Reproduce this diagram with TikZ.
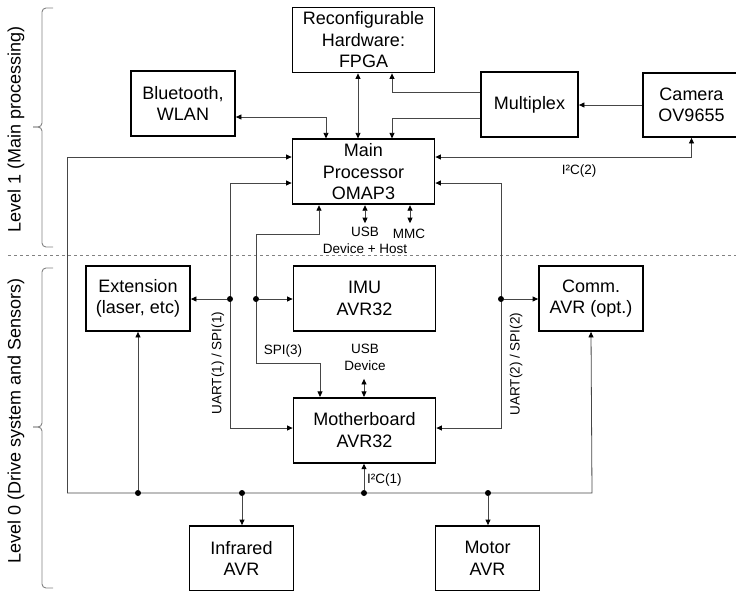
\documentclass[tikz,border=0pt]{standalone}
\usepackage{fontspec}
\setmainfont{Liberation Sans}
\usepackage{tikz}
\usetikzlibrary{arrows.meta, positioning}
\definecolor{wire}{RGB}{70, 70, 70}
\definecolor{guide}{RGB}{130, 130, 130}
\newcommand{\boxfont}{\fontsize{18}{21.5}\selectfont}
\newcommand{\lblfont}{\fontsize{13.5}{16.5}\selectfont}

\begin{document}
\begin{tikzpicture}[
        x=1pt, y=-1pt,
        box/.style={draw=black, line width=1.8pt, fill=white, minimum height=65pt, inner sep=0pt, align=center, font=\boxfont},
        wide/.style={box, minimum width=142pt},
        narrow/.style={box, minimum width=104pt},
        link/.style={draw=wire, line width=0.8pt, -{Triangle[length=5.5pt, width=5pt, color=black]}},
        both/.style={link, {Triangle[length=5.5pt, width=5pt, color=black]}-{Triangle[length=5.5pt, width=5pt, color=black]}},
        lbl/.style={font=\lblfont, inner sep=1pt, align=center},
        dot/.style={circle, fill=black, inner sep=0pt, minimum size=6pt},
        level/.style={rotate=90, font=\boxfont, inner sep=0pt},
        lvlbrace/.style={draw=guide, line width=0.9pt, rounded corners=4pt}
    ]
    \useasboundingbox (0,0) rectangle (736,590);

    % level 1
    \node[wide] (fpga) at (363.5,40) {Reconfigurable\\Hardware:\\FPGA};
    \node[wide, below=65pt of fpga] (omap) {Main\\Processor\\OMAP3};
    \node[narrow] (bt) at (183,103.5) {Bluetooth,\\WLAN};
    \node[box, minimum width=97pt] (mux) at (529.5,104.5) {Multiplex};
    \node[box, minimum width=97pt, minimum height=64pt] (cam) at (691.5,105) {Camera\\OV9655};

    % level 0
    \node[narrow] (ext) at (138,298.5) {Extension\\(laser, etc)};
    \node[wide] (imu) at (364.5,298.5) {IMU\\AVR32};
    \node[narrow] (comm) at (591,298.5) {Comm.\\AVR (opt.)};
    \node[wide, below=65pt of imu] (mb) {Motherboard\\AVR32};
    \node[narrow] (ir) at (241.5,558.5) {Infrared\\AVR};
    \node[narrow] (motor) at (487.5,558.5) {Motor\\AVR};

    \draw[both] (fpga.south -| 358,0) -- (omap.north -| 358,0);
    \draw[both] (bt.east |- 0,117) -| (omap.north -| 326,0);
    \draw[link] (mux.west |- 0,92) -| (fpga.south -| 392,0);
    \draw[link] (mux.west |- 0,118) -| (omap.north -| 392,0);
    \draw[link] (cam.west) -- (cam.west -| mux.east);
    \draw[both] (omap.east |- 0,157) -| (cam.south);
    \node[lbl] (i2ctwo) at (579,171) {I²C(2)};

    \draw[both] (omap.south -| 365,0) -- ++(0,18);
    \draw[both] (omap.south -| 410,0) -- ++(0,18);
    \node[lbl] (usbhost) at (365,240.5) {USB\\Device + Host};
    \node[lbl] (mmc) at (409,234) {MMC};

    \draw[dashed, draw=guide, line width=0.6pt] (8,255) -- (736,255);

    % UART(1) / SPI(1)
    \draw[both] (omap.west |- 0,183) -| (230,428) -- (mb.west |- 0,428);
    \node[dot] (juone) at (230,299) {};
    \draw[link] (juone) -- (ext.east |- juone);
    \node[lbl, rotate=90] (uartone) at (218,363) {UART(1) / SPI(1)};

    % SPI(3)
    \draw[both] (omap.south -| 319,0) |- (256,234) |- (320,363) -- (mb.north -| 320,0);
    \node[dot] (jspi) at (256,299) {};
    \draw[link] (jspi) -- (imu.west |- jspi);
    \node[lbl] (spithree) at (283,351) {SPI(3)};
    \draw[both] (mb.north -| 364,0) -- ++(0,-18);
    \node[lbl] (usbdev) at (365,357.5) {USB\\Device};

    % UART(2) / SPI(2)
    \draw[both] (omap.east |- 0,183) -| (501,428) -- (mb.east |- 0,428);
    \node[dot] (jutwo) at (501,299) {};
    \draw[link] (jutwo) -- (comm.west |- jutwo);
    \node[lbl, rotate=90] (uarttwo) at (516,364) {UART(2) / SPI(2)};

    % I2C(1) bus
    \coordinate (busL) at (67,493);
    \coordinate (busR) at (592,493);
    \draw[link] (busL) -- (busR) -- (comm.south);
    \draw[link] (busL) |- (omap.west |- 0,157);
    \foreach \x/\dst in {138/ext, 364/mb} {
        \node[dot] (j\x) at (\x,493) {};
        \draw[link] (j\x) -- (\dst.south -| j\x);
    }
    \foreach \x/\dst in {242/ir, 488/motor} {
        \node[dot] (j\x) at (\x,493) {};
        \draw[link] (j\x) -- (\dst.north -| j\x);
    }
    \node[lbl, anchor=west] (i2cone) at (366,480) {I²C(1)};

    % levels
    \foreach \top/\tip/\bot in {8/127/247, 268/427/588} {
        \draw[lvlbrace] (53,\top) -- (42,\top) -- (42,\tip) -- (33,\tip);
        \draw[lvlbrace] (33,\tip) -- (42,\tip) -- (42,\bot) -- (53,\bot);
    }
    \node[level] (lvlone) at (16,129) {Level 1 (Main processing)};
    \node[level] (lvlzero) at (16,421) {Level 0 (Drive system and Sensors)};
\end{tikzpicture}
\end{document}
